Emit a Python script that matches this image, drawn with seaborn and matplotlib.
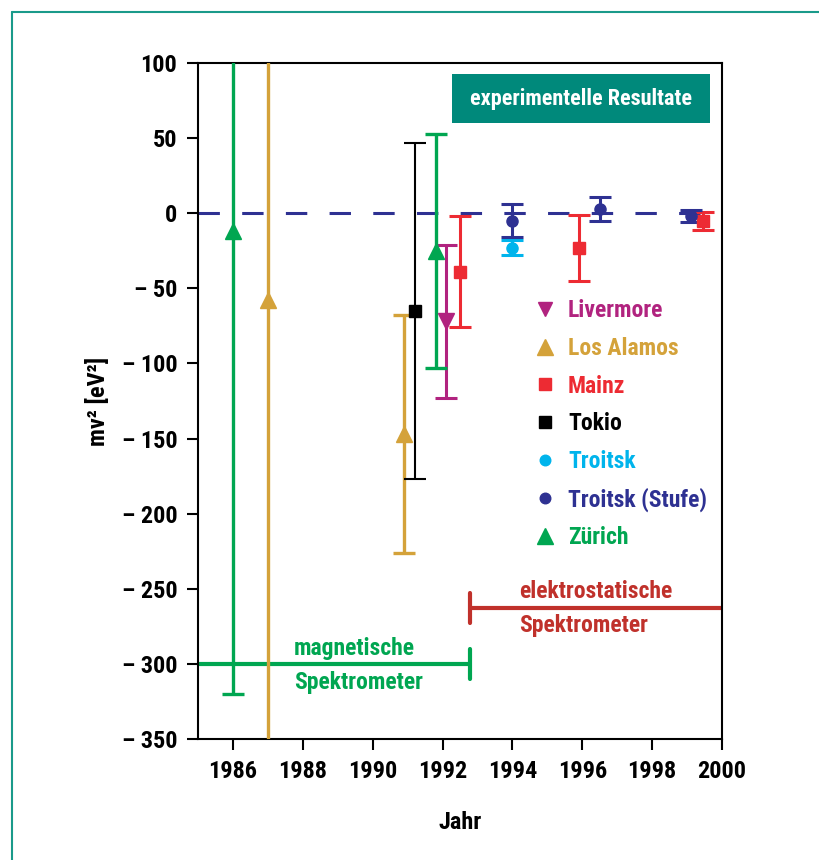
import matplotlib
matplotlib.use("Agg")
import matplotlib.pyplot as plt
import seaborn as sns
from matplotlib.lines import Line2D
from matplotlib.patches import Rectangle

# measurements: year, m_nu^2 value, symmetric error
livermore_x = [1992.1]
livermore_y = [-72]
livermore_err = [51]

losalamos_x = [1987.0, 1990.9]
losalamos_y = [-58, -147]
losalamos_err = [330, 79]

mainz_x = [1992.5, 1995.9, 1999.45]
mainz_y = [-39, -23, -5]
mainz_err = [37, 22, 6]

tokio_x = [1991.2]
tokio_y = [-65]
tokio_err = [112]

troitsk_x = [1994.0]
troitsk_y = [-23]
troitsk_err = [5]

troitsk_stufe_x = [1994.0, 1996.5, 1999.1]
troitsk_stufe_y = [-5, 3, -2]
troitsk_stufe_err = [11, 8, 4]

zurich_x = [1986.0, 1991.8]
zurich_y = [-12, -25]
zurich_err = [308, 78]

magnet_range = [1985, 1992.8]
magnet_level = -300
elektro_range = [1992.8, 2000]
elektro_level = -263

xtick_vals = [1986, 1988, 1990, 1992, 1994, 1996, 1998, 2000]
ytick_vals = [100, 50, 0, -50, -100, -150, -200, -250, -300, -350]
ytick_labels = ["100", "50", "0", "– 50", "– 100", "– 150", "– 200",
                "– 250", "– 300", "– 350"]

series = [
    ("Livermore", livermore_x, livermore_y, livermore_err, "v", 11, "#b1237f", 2.2),
    ("Los Alamos", losalamos_x, losalamos_y, losalamos_err, "^", 12, "#d4a23a", 2.4),
    ("Mainz", mainz_x, mainz_y, mainz_err, "s", 9, "#ed2b33", 2.2),
    ("Tokio", tokio_x, tokio_y, tokio_err, "s", 9, "#000000", 1.5),
    ("Troitsk", troitsk_x, troitsk_y, troitsk_err, "o", 8, "#00b4ec", 2.2),
    ("Troitsk (Stufe)", troitsk_stufe_x, troitsk_stufe_y, troitsk_stufe_err, "o", 8, "#2e3192", 2.2),
    ("Zürich", zurich_x, zurich_y, zurich_err, "^", 12, "#00a651", 2.4),
]

sns.set_style("ticks")
plt.rcParams["font.family"] = ["Roboto Condensed", "Liberation Sans Narrow", "DejaVu Sans"]
plt.rcParams["font.weight"] = "bold"

fig = plt.figure(figsize=(8.2, 8.6), dpi=100)
ax = fig.add_axes([0.2415, 0.1407, 0.639, 0.786])

ax.axhline(0, color="#2e3192", lw=2.2, ls=(0, (7, 7.3)), zorder=1)

for name, xs, ys, errs, mk, ms, col, lw in series:
    ax.errorbar(xs, ys, yerr=errs, fmt=mk, ms=ms, color=col, ecolor=col, mec=col,
                elinewidth=lw, capsize=8, capthick=lw, zorder=3)

# spectrometer periods
green = "#00a651"
red = "#c0312b"
ax.plot(magnet_range, [magnet_level] * 2, color=green, lw=3, solid_capstyle="butt")
ax.plot([magnet_range[1]] * 2, [magnet_level - 10, magnet_level + 10], color=green, lw=3)
ax.plot(elektro_range, [elektro_level] * 2, color=red, lw=3, solid_capstyle="butt")
ax.plot([elektro_range[0]] * 2, [elektro_level - 10, elektro_level + 10], color=red, lw=3)
ax.text(1987.75, -301, "magnetische\nSpektrometer", color=green, fontsize=17,
        fontweight="bold", va="center", ha="left", linespacing=1.6)
ax.text(1994.2, -263, "elektrostatische\nSpektrometer", color=red, fontsize=17,
        fontweight="bold", va="center", ha="left", linespacing=1.6)

# title box
ax.add_patch(Rectangle((0.485, 0.911), 0.492, 0.073, transform=ax.transAxes,
                       facecolor="#00897b", edgecolor="none", zorder=4))
ax.text(0.731, 0.947, "experimentelle Resultate", transform=ax.transAxes,
        color="white", fontsize=16, fontweight="bold", ha="center", va="center", zorder=5)

# legend
handles = [Line2D([], [], ls="none", marker=mk, ms=ms * 0.95, color=col)
           for name, xs, ys, errs, mk, ms, col, lw in series]
labels = [s[0] for s in series]
leg = ax.legend(handles, labels, loc="upper left", bbox_to_anchor=(0.6, 0.682),
                frameon=False, fontsize=17, handlelength=1.0, handletextpad=0.45,
                labelspacing=0.62, labelcolor=[s[6] for s in series])
for t in leg.get_texts():
    t.set_fontweight("bold")

ax.set_xlim(1985, 2000)
ax.set_ylim(-350, 100)
ax.set_xticks(xtick_vals)
ax.set_yticks(ytick_vals)
ax.set_yticklabels(ytick_labels)
ax.tick_params(axis="both", direction="out", length=8, width=1.5, labelsize=17.5, pad=7,
               colors="black")
for lab in ax.get_xticklabels() + ax.get_yticklabels():
    lab.set_fontweight("bold")
for sp in ax.spines.values():
    sp.set_visible(True)
    sp.set_linewidth(1.5)
    sp.set_color("black")

ax.set_xlabel("Jahr", fontsize=17.5, fontweight="bold", labelpad=20, color="black")
ax.set_ylabel("mν² [eV²]", fontsize=17.5, fontweight="bold", labelpad=8, color="black")

# outer frame (left and top edges)
frame = "#1a9a8a"
fig.add_artist(Line2D([12 / 820, 12 / 820], [0, 1 - 12 / 860], color=frame, lw=1.5,
                      transform=fig.transFigure))
fig.add_artist(Line2D([12 / 820, 1], [1 - 12 / 860, 1 - 12 / 860], color=frame, lw=1.5,
                      transform=fig.transFigure))

plt.savefig("out.png", dpi=100)
plt.close()
